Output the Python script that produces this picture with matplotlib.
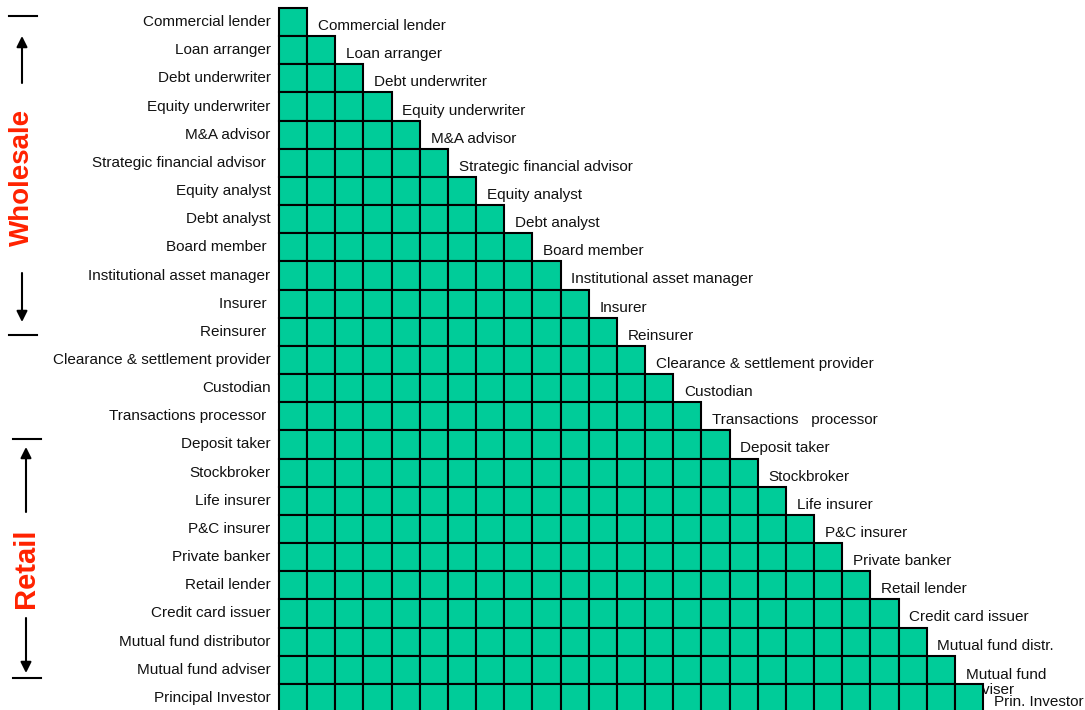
import matplotlib
matplotlib.use('Agg')
import matplotlib.pyplot as plt
from matplotlib.patches import Rectangle

plt.rcParams['font.family'] = ['Liberation Sans', 'DejaVu Sans']

# Etiquetas de la izquierda (una por fila)
row_labels = [
    'Commercial lender', 'Loan arranger', 'Debt underwriter', 'Equity underwriter',
    'M&A advisor', 'Strategic financial advisor ', 'Equity analyst', 'Debt analyst',
    'Board member ', 'Institutional asset manager', 'Insurer ', 'Reinsurer ',
    'Clearance & settlement provider', 'Custodian', 'Transactions processor ',
    'Deposit taker', 'Stockbroker', 'Life insurer', 'P&C insurer', 'Private banker',
    'Retail lender', 'Credit card issuer', 'Mutual fund distributor',
    'Mutual fund adviser', 'Principal Investor',
]

# Etiquetas de la diagonal (al final de cada fila)
diag_labels = [
    'Commercial lender', 'Loan arranger', 'Debt underwriter', 'Equity underwriter',
    'M&A advisor', 'Strategic financial advisor', 'Equity analyst', 'Debt analyst',
    'Board member', 'Institutional asset manager', 'Insurer', 'Reinsurer',
    'Clearance & settlement provider', 'Custodian', 'Transactions   processor',
    'Deposit taker', 'Stockbroker', 'Life insurer', 'P&C insurer', 'Private banker',
    'Retail lender', 'Credit card issuer', 'Mutual fund distr.',
    'Mutual fund\nadviser', 'Prin. Investor',
]

# numero de celdas en cada fila (matriz triangular)
cells_per_row = list(range(1, len(row_labels) + 1))

# grupos del lado izquierdo (pixeles): texto, linea arriba, linea abajo, centro texto, x,
# y los extremos de las flechas (cola, punta)
groups = [
    ('Wholesale', 16, 335, 177, 22, (83, 36), (273, 322), 20),
    ('Retail', 439, 678, 568, 26, (512, 447), (618, 673), 21),
]

W, H = 1085, 710
X0, Y0, CW = 279, 8, 28.16  # origen de la rejilla y tamaño de celda en pixeles
TEAL = '#00CC99'
RED = '#FF2200'
FS = 11

fig = plt.figure(figsize=(W / 100, H / 100), dpi=100)
ax = fig.add_axes([0, 0, 1, 1])
ax.set_xlim(-X0 / CW, (W - X0) / CW)
ax.set_ylim((H - Y0) / CW, -Y0 / CW)
ax.axis('off')


def ux(px):
    return (px - X0) / CW


def uy(py):
    return (py - Y0) / CW


for i, n in enumerate(cells_per_row):
    for j in range(n):
        ax.add_patch(Rectangle((j, i), 1, 1, facecolor=TEAL, edgecolor='black',
                               linewidth=1.5, zorder=3))
    ax.text(-0.3, i + 0.5, row_labels[i], ha='right', va='center', fontsize=FS,
            color='#111111')
    extra = diag_labels[i].count('\n') * 0.32
    # el texto queda debajo de las celdas (en el original "ad" de adviser queda tapado)
    ax.text(n + 0.38, i + 0.64 + extra, diag_labels[i], ha='left', va='center',
            fontsize=FS, color='#111111', zorder=1, linespacing=1.05)

for name, top, bot, mid, x, up, down, fs in groups:
    xc = ux(x)
    ax.plot([ux(x - 13), ux(x + 15)], [uy(top), uy(top)], color='black', lw=1.5)
    ax.plot([ux(x - 13), ux(x + 15)], [uy(bot), uy(bot)], color='black', lw=1.5)
    for tail, tip in (up, down):
        ax.annotate('', xy=(xc, uy(tip)), xytext=(xc, uy(tail)),
                    arrowprops=dict(arrowstyle='-|>', color='black', lw=1.5,
                                    mutation_scale=16, shrinkA=0, shrinkB=0))
    ax.text(xc, uy(mid), name, rotation=90, ha='center', va='center',
            fontsize=fs, fontweight='bold', color=RED)

fig.savefig('out.png', dpi=100)
